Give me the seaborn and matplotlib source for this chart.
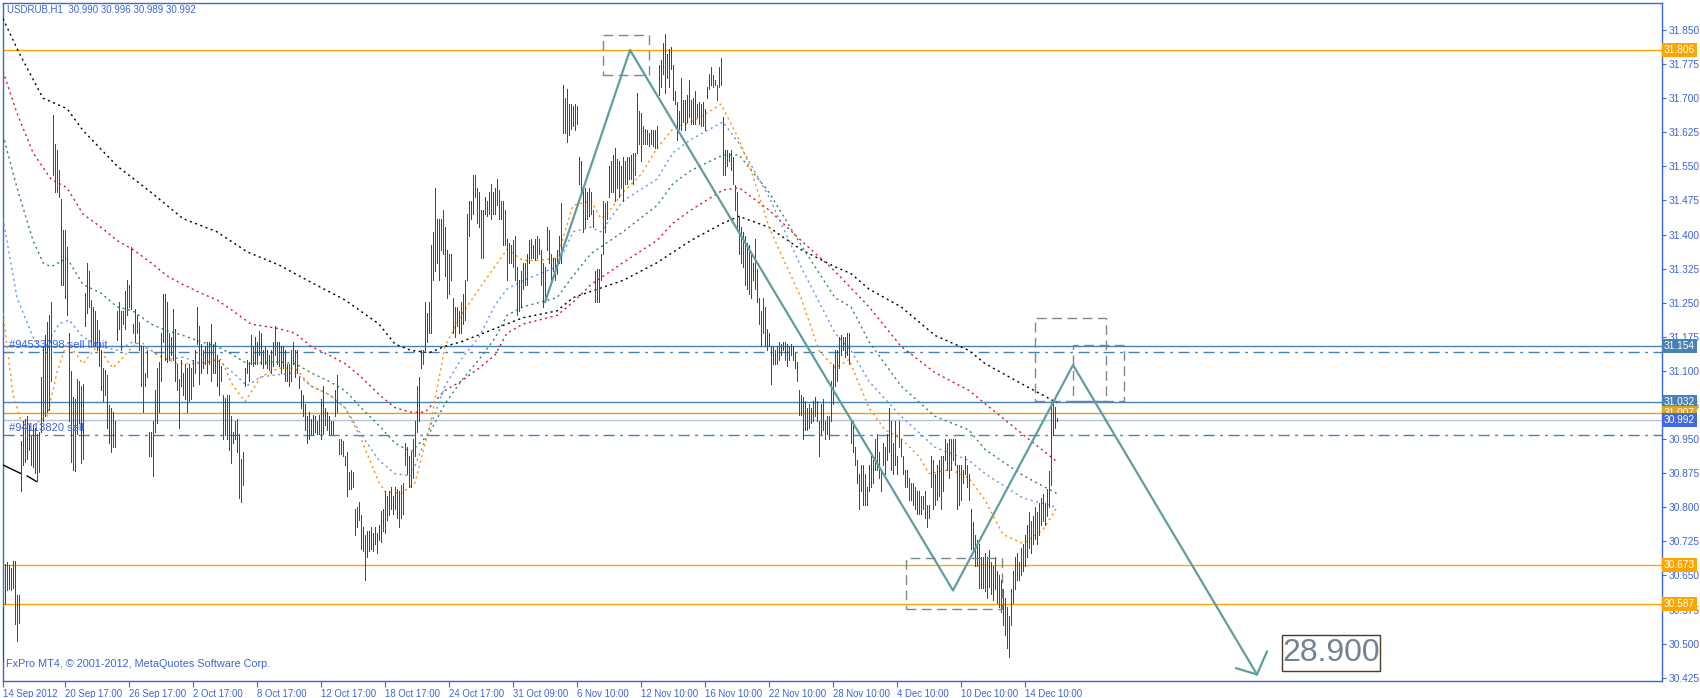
import matplotlib
matplotlib.use("Agg")
import matplotlib.pyplot as plt
from matplotlib.patches import Rectangle
import pandas as pd
import seaborn as sns

sns.set_theme(style="white")
plt.rcParams["font.family"] = ["Liberation Sans", "DejaVu Sans"]

# ---------------------------------------------------------------- colours
AXIS_BLUE = "#3d63dd"
BAR_COLOR = "#2f4d66"
MAGENTA = "#b5176e"
ORANGE = "#ffa500"
GOLD = "#daa520"
STEEL = "#4682b4"
ZIGZAG = "#5f9ea0"
BOX_GREY = "#7b8794"

# ---------------------------------------------------------------- price bars (H1, one per bar index)
HIGH = [
    30.578, 30.675, 30.680, 30.672, 30.666, 30.682, 30.682, 30.607, 30.607, 30.946,
    30.990, 30.995, 31.001, 30.980, 30.956, 30.980, 30.975, 30.961, 30.966, 31.086,
    31.154, 31.180, 31.207, 31.222, 31.251, 31.662, 31.600, 31.585, 31.541, 31.478,
    31.411, 31.411, 31.372, 31.183, 31.100, 31.043, 31.038, 31.082, 31.077, 31.067,
    31.072, 31.271, 31.338, 31.319, 31.256, 31.241, 31.232, 31.212, 31.190, 31.145,
    31.106, 31.101, 31.091, 31.024, 31.019, 31.009, 30.990, 31.232, 31.251, 31.232,
    31.232, 31.275, 31.299, 31.290, 31.372, 31.203, 31.237, 31.222, 31.208, 31.154,
    31.154, 31.096, 31.145, 30.965, 30.965, 30.990, 31.057, 31.106, 31.120, 31.183,
    31.270, 31.270, 31.251, 31.183, 31.174, 31.237, 31.193, 31.116, 31.082, 31.125,
    31.096, 31.116, 31.106, 31.116, 31.106, 31.125, 31.145, 31.241, 31.198, 31.159,
    31.145, 31.154, 31.164, 31.164, 31.203, 31.159, 31.164, 31.135, 31.125, 31.111,
    31.048, 31.040, 31.048, 31.048, 31.000, 30.965, 30.990, 30.995, 30.961, 30.907,
    30.922, 31.106, 31.125, 31.120, 31.178, 31.154, 31.174, 31.164, 31.188, 31.183,
    31.145, 31.154, 31.145, 31.135, 31.145, 31.164, 31.198, 31.164, 31.164, 31.154,
    31.154, 31.145, 31.116, 31.116, 31.145, 31.164, 31.145, 31.145, 31.087, 31.057,
    31.048, 31.028, 31.000, 31.009, 30.995, 31.004, 31.000, 30.990, 31.004, 31.038,
    31.067, 31.019, 31.009, 31.000, 30.990, 30.990, 31.057, 31.091, 30.951, 30.951,
    30.946, 30.912, 30.922, 30.878, 30.883, 30.878, 30.796, 30.801, 30.811, 30.782,
    30.757, 30.738, 30.748, 30.748, 30.757, 30.743, 30.757, 30.743, 30.762, 30.791,
    30.796, 30.835, 30.825, 30.835, 30.845, 30.825, 30.845, 30.840, 30.835, 30.849,
    30.854, 30.941, 30.932, 30.912, 30.922, 30.951, 30.990, 31.067, 31.087, 31.145,
    31.145, 31.251, 31.227, 31.251, 31.377, 31.406, 31.503, 31.435, 31.435, 31.435,
    31.454, 31.416, 31.367, 31.358, 31.358, 31.261, 31.241, 31.241, 31.232, 31.251,
    31.270, 31.299, 31.445, 31.474, 31.474, 31.532, 31.532, 31.503, 31.493, 31.454,
    31.454, 31.483, 31.474, 31.493, 31.512, 31.493, 31.503, 31.522, 31.498, 31.474,
    31.474, 31.454, 31.391, 31.382, 31.377, 31.387, 31.396, 31.329, 31.299, 31.319,
    31.338, 31.338, 31.358, 31.387, 31.391, 31.377, 31.391, 31.396, 31.391, 31.367,
    31.338, 31.329, 31.416, 31.411, 31.358, 31.348, 31.348, 31.367, 31.396, 31.469,
    31.730, 31.701, 31.720, 31.687, 31.687, 31.682, 31.687, 31.682, 31.571, 31.561,
    31.503, 31.503, 31.493, 31.503, 31.493, 31.454, 31.319, 31.324, 31.324, 31.358,
    31.474, 31.469, 31.474, 31.551, 31.561, 31.575, 31.590, 31.566, 31.561, 31.551,
    31.571, 31.561, 31.571, 31.571, 31.575, 31.580, 31.580, 31.711, 31.672, 31.667,
    31.638, 31.633, 31.629, 31.624, 31.629, 31.629, 31.629, 31.638, 31.774, 31.783,
    31.822, 31.842, 31.798, 31.808, 31.812, 31.774, 31.716, 31.692, 31.672, 31.745,
    31.696, 31.696, 31.706, 31.740, 31.696, 31.701, 31.716, 31.687, 31.692, 31.687,
    31.692, 31.677, 31.725, 31.754, 31.769, 31.750, 31.740, 31.730, 31.769, 31.788,
    31.658, 31.585, 31.585, 31.580, 31.585, 31.571, 31.508, 31.493, 31.440, 31.416,
    31.406, 31.396, 31.382, 31.377, 31.358, 31.338, 31.391, 31.324, 31.261, 31.232,
    31.261, 31.241, 31.193, 31.183, 31.154, 31.154, 31.145, 31.154, 31.164, 31.159,
    31.164, 31.164, 31.159, 31.154, 31.159, 31.154, 31.140, 31.120, 31.057, 31.048,
    31.043, 31.033, 31.019, 31.028, 31.019, 31.033, 31.043, 31.033, 30.990, 31.028,
    31.038, 30.990, 31.000, 31.000, 31.077, 31.116, 31.145, 31.145, 31.174, 31.178,
    31.174, 31.174, 31.183, 31.183, 30.990, 30.990, 30.932, 30.903, 30.874, 30.893,
    30.893, 30.874, 30.845, 30.893, 30.912, 30.903, 30.951, 30.961, 30.922, 30.883,
    30.941, 30.932, 30.961, 31.019, 30.990, 30.941, 30.990, 30.912, 30.990, 30.951,
    30.912, 30.883, 30.883, 30.864, 30.854, 30.854, 30.845, 30.835, 30.835, 30.825,
    30.825, 30.835, 30.806, 30.806, 30.912, 30.903, 30.874, 30.893, 30.903, 30.912,
    30.912, 30.951, 30.941, 30.951, 30.951, 30.951, 30.951, 30.893, 30.893, 30.893,
    30.883, 30.912, 30.893, 30.874, 30.796, 30.767, 30.738, 30.728, 30.719, 30.690,
    30.690, 30.700, 30.690, 30.705, 30.680, 30.670, 30.690, 30.660, 30.650, 30.640,
    30.620, 30.600, 30.580, 30.560, 30.620, 30.660, 30.690, 30.700, 30.680, 30.710,
    30.720, 30.740, 30.760, 30.790, 30.770, 30.780, 30.800, 30.790, 30.810, 30.820,
    30.830, 30.810, 30.840, 30.880, 31.030, 31.035, 31.020, 30.996,
]
LOW = [
    30.462, 30.588, 30.617, 30.620, 30.617, 30.622, 30.544, 30.506, 30.546, 30.835,
    30.893, 30.900, 30.907, 30.927, 30.893, 30.888, 30.875, 30.859, 30.878, 30.965,
    30.990, 31.000, 31.009, 31.014, 31.077, 31.532, 31.493, 31.493, 31.483, 31.290,
    31.290, 31.261, 31.222, 30.990, 30.900, 30.883, 30.879, 30.961, 30.985, 30.898,
    30.907, 31.198, 31.227, 31.241, 31.154, 31.154, 31.154, 31.145, 31.110, 31.057,
    31.033, 31.048, 30.975, 30.941, 30.922, 30.932, 30.932, 31.169, 31.193, 31.145,
    31.203, 31.193, 31.222, 31.241, 31.237, 31.183, 31.164, 31.183, 31.145, 31.067,
    31.009, 31.067, 31.087, 30.912, 30.912, 30.869, 30.965, 30.985, 31.009, 31.077,
    31.164, 31.125, 31.120, 31.125, 31.135, 31.125, 31.077, 31.057, 30.975, 31.067,
    31.048, 31.038, 31.009, 31.033, 31.038, 31.067, 31.096, 31.159, 31.072, 31.096,
    31.106, 31.116, 31.096, 31.116, 31.077, 31.096, 31.096, 31.067, 31.048, 31.077,
    30.951, 30.960, 30.951, 30.927, 30.898, 30.941, 30.951, 30.922, 30.820, 30.811,
    30.849, 31.067, 31.096, 31.077, 31.116, 31.111, 31.116, 31.116, 31.135, 31.116,
    31.106, 31.116, 31.106, 31.101, 31.096, 31.111, 31.135, 31.116, 31.111, 31.096,
    31.106, 31.077, 31.077, 31.067, 31.077, 31.116, 31.087, 31.096, 31.062, 31.019,
    31.000, 30.970, 30.941, 30.951, 30.961, 30.961, 30.966, 30.961, 30.961, 30.951,
    30.961, 30.980, 30.970, 30.961, 30.961, 30.961, 31.000, 31.009, 30.917, 30.917,
    30.912, 30.893, 30.825, 30.840, 30.840, 30.845, 30.738, 30.757, 30.772, 30.709,
    30.704, 30.641, 30.690, 30.704, 30.709, 30.704, 30.719, 30.699, 30.728, 30.724,
    30.748, 30.743, 30.772, 30.782, 30.796, 30.786, 30.796, 30.777, 30.757, 30.777,
    30.786, 30.893, 30.874, 30.845, 30.845, 30.864, 30.912, 30.966, 30.990, 31.106,
    31.116, 31.145, 31.164, 31.183, 31.183, 31.299, 31.319, 31.338, 31.299, 31.367,
    31.358, 31.309, 31.261, 31.270, 31.299, 31.183, 31.174, 31.198, 31.183, 31.183,
    31.203, 31.212, 31.299, 31.396, 31.435, 31.445, 31.483, 31.425, 31.416, 31.348,
    31.348, 31.445, 31.440, 31.445, 31.435, 31.445, 31.445, 31.464, 31.435, 31.435,
    31.377, 31.377, 31.299, 31.338, 31.338, 31.329, 31.299, 31.222, 31.232, 31.241,
    31.280, 31.290, 31.290, 31.338, 31.348, 31.348, 31.343, 31.348, 31.358, 31.290,
    31.241, 31.251, 31.367, 31.338, 31.299, 31.319, 31.299, 31.314, 31.338, 31.338,
    31.624, 31.624, 31.604, 31.619, 31.633, 31.638, 31.629, 31.643, 31.512, 31.493,
    31.406, 31.416, 31.435, 31.440, 31.445, 31.416, 31.251, 31.251, 31.251, 31.299,
    31.358, 31.406, 31.435, 31.483, 31.493, 31.493, 31.474, 31.503, 31.483, 31.503,
    31.474, 31.512, 31.512, 31.522, 31.522, 31.512, 31.532, 31.580, 31.600, 31.561,
    31.600, 31.600, 31.600, 31.595, 31.600, 31.595, 31.590, 31.590, 31.706, 31.725,
    31.754, 31.711, 31.745, 31.725, 31.764, 31.696, 31.687, 31.609, 31.633, 31.629,
    31.648, 31.629, 31.648, 31.658, 31.643, 31.643, 31.643, 31.658, 31.643, 31.638,
    31.638, 31.629, 31.701, 31.720, 31.730, 31.725, 31.730, 31.696, 31.725, 31.730,
    31.532, 31.532, 31.551, 31.561, 31.541, 31.512, 31.454, 31.416, 31.358, 31.338,
    31.329, 31.290, 31.280, 31.270, 31.261, 31.299, 31.280, 31.251, 31.203, 31.154,
    31.183, 31.154, 31.145, 31.154, 31.072, 31.116, 31.116, 31.116, 31.125, 31.135,
    31.145, 31.125, 31.111, 31.125, 31.135, 31.125, 31.106, 31.077, 31.004, 31.004,
    30.951, 30.970, 30.970, 30.975, 30.985, 30.990, 31.000, 30.990, 30.912, 30.961,
    30.970, 30.951, 30.961, 30.951, 30.990, 31.028, 31.067, 31.077, 31.106, 31.135,
    31.145, 31.130, 31.135, 31.116, 30.941, 30.922, 30.893, 30.854, 30.796, 30.835,
    30.806, 30.806, 30.806, 30.835, 30.845, 30.854, 30.883, 30.883, 30.864, 30.835,
    30.893, 30.874, 30.903, 30.922, 30.883, 30.874, 30.893, 30.874, 30.932, 30.912,
    30.874, 30.845, 30.845, 30.816, 30.816, 30.806, 30.796, 30.786, 30.786, 30.786,
    30.796, 30.777, 30.757, 30.777, 30.845, 30.796, 30.806, 30.816, 30.825, 30.796,
    30.835, 30.903, 30.883, 30.864, 30.883, 30.903, 30.893, 30.796, 30.806, 30.816,
    30.854, 30.874, 30.845, 30.816, 30.709, 30.699, 30.670, 30.670, 30.622, 30.622,
    30.622, 30.615, 30.600, 30.625, 30.610, 30.595, 30.620, 30.590, 30.580, 30.570,
    30.540, 30.520, 30.490, 30.470, 30.540, 30.590, 30.620, 30.640, 30.640, 30.650,
    30.660, 30.670, 30.690, 30.710, 30.700, 30.720, 30.730, 30.720, 30.740, 30.760,
    30.770, 30.760, 30.780, 30.800, 30.850, 30.960, 30.975, 30.989,
]
MAGENTA_BARS = [71, 210, 321, 357, 508]

# ---------------------------------------------------------------- moving averages (bar index, price)
MA_BLACK_X = [0, 8, 20, 32, 40, 57, 74, 90, 107, 122, 138, 154, 171, 188, 196, 204,
              213, 221, 229, 246, 260, 277, 285, 294, 310, 327, 344, 360, 368, 383,
              399, 416, 424, 433, 449, 466, 483, 491, 510, 527]
MA_BLACK_Y = [31.875, 31.800, 31.700, 31.677, 31.629, 31.551, 31.493, 31.435, 31.406,
              31.362, 31.333, 31.295, 31.256, 31.203, 31.159, 31.145, 31.140, 31.154,
              31.164, 31.193, 31.217, 31.232, 31.261, 31.275, 31.299, 31.338, 31.387,
              31.425, 31.440, 31.416, 31.367, 31.329, 31.314, 31.280, 31.241, 31.178,
              31.145, 31.116, 31.070, 31.030]

MA_RED_X = [0, 7, 15, 24, 32, 40, 49, 57, 65, 74, 82, 90, 99, 107, 115, 124, 138, 146,
            154, 163, 171, 179, 188, 196, 204, 211, 221, 229, 238, 246, 252, 260, 277,
            285, 294, 310, 327, 335, 344, 360, 368, 383, 399, 416, 433, 449, 466, 483,
            491, 510, 527]
MA_RED_Y = [31.759, 31.667, 31.580, 31.522, 31.503, 31.445, 31.416, 31.387, 31.367,
            31.338, 31.309, 31.290, 31.271, 31.256, 31.232, 31.203, 31.193, 31.183,
            31.154, 31.135, 31.116, 31.087, 31.048, 31.019, 31.009, 31.009, 31.057,
            31.077, 31.106, 31.135, 31.183, 31.203, 31.222, 31.251, 31.290, 31.338,
            31.387, 31.425, 31.454, 31.498, 31.503, 31.454, 31.387, 31.319, 31.241,
            31.154, 31.096, 31.057, 31.028, 30.960, 30.900]

MA_GREEN_X = [0, 7, 15, 20, 24, 32, 40, 49, 57, 65, 74, 82, 90, 99, 107, 115, 122, 138,
              146, 154, 163, 171, 179, 188, 196, 204, 213, 221, 229, 238, 246, 252, 260,
              277, 285, 294, 310, 327, 335, 344, 360, 368, 383, 399, 416, 424, 433, 449,
              466, 483, 491, 510, 527]
MA_GREEN_Y = [31.619, 31.503, 31.387, 31.338, 31.329, 31.348, 31.290, 31.271, 31.241,
              31.232, 31.203, 31.188, 31.178, 31.164, 31.154, 31.135, 31.116, 31.120,
              31.116, 31.096, 31.077, 31.057, 31.019, 30.980, 30.941, 30.922, 30.961,
              31.028, 31.077, 31.125, 31.172, 31.222, 31.241, 31.261, 31.309, 31.358,
              31.406, 31.464, 31.512, 31.541, 31.575, 31.575, 31.493, 31.377, 31.261,
              31.241, 31.164, 31.067, 31.000, 30.970, 30.927, 30.870, 30.830]

MA_BLUE_X = [0, 7, 15, 20, 28, 33, 40, 49, 57, 65, 74, 82, 90, 99, 107, 115, 122, 129,
             146, 154, 163, 171, 179, 188, 196, 204, 213, 221, 229, 238, 246, 252, 260,
             277, 285, 294, 299, 310, 327, 335, 344, 360, 368, 383, 399, 416, 424, 433,
             449, 466, 483, 491, 510, 527]
MA_BLUE_Y = [31.435, 31.261, 31.174, 31.145, 31.203, 31.212, 31.174, 31.154, 31.145,
             31.164, 31.145, 31.125, 31.130, 31.116, 31.125, 31.096, 31.067, 31.087,
             31.096, 31.067, 31.048, 31.019, 30.961, 30.903, 30.874, 30.869, 30.970,
             31.067, 31.125, 31.174, 31.245, 31.280, 31.299, 31.329, 31.406, 31.416,
             31.406, 31.474, 31.522, 31.580, 31.609, 31.648, 31.600, 31.483, 31.329,
             31.183, 31.145, 31.077, 31.000, 30.932, 30.903, 30.874, 30.820, 30.800]

MA_ORANGE_X = [0, 5, 9, 15, 22, 27, 32, 40, 47, 55, 65, 69, 77, 87, 99, 109, 115, 121,
               129, 138, 146, 154, 163, 171, 179, 188, 191, 199, 206, 214, 221, 229, 238,
               246, 252, 260, 268, 277, 285, 294, 299, 302, 310, 319, 327, 335, 344, 352,
               359, 368, 374, 383, 391, 399, 408, 416, 423, 433, 441, 449, 458, 463, 474,
               483, 491, 500, 510, 520, 527]
MA_ORANGE_Y = [31.227, 31.048, 30.990, 30.980, 31.000, 31.096, 31.164, 31.116, 31.154,
               31.106, 31.154, 31.164, 31.135, 31.116, 31.116, 31.125, 31.067, 31.033,
               31.087, 31.106, 31.106, 31.067, 31.048, 31.019, 30.951, 30.854, 30.835,
               30.830, 30.854, 30.990, 31.154, 31.222, 31.280, 31.330, 31.367, 31.343,
               31.343, 31.348, 31.464, 31.474, 31.435, 31.445, 31.493, 31.532, 31.590,
               31.633, 31.648, 31.667, 31.687, 31.609, 31.542, 31.416, 31.338, 31.261,
               31.145, 31.106, 31.125, 31.019, 30.970, 30.951, 30.912, 30.874, 30.883,
               30.864, 30.816, 30.740, 30.720, 30.750, 30.800]

# trend fragment at the far left
TREND_X = [0, 9, 12, 17]
TREND_Y = [30.893, 30.874, 30.869, 30.856]

# zig-zag projection and its arrow head
ZIGZAG_X = [271, 313.5, 475, 535, 627]
ZIGZAG_Y = [31.251, 31.806, 30.617, 31.113, 30.432]
ARROW_X = [616.5, 627, 632]
ARROW_Y = [30.446, 30.432, 30.483]

# dashed rectangles: (bar0, bar1, price0, price1)
BOXES = [
    (300.2, 323.2, 31.750, 31.839),
    (451.5, 499.5, 30.577, 30.688),
    (516.0, 551.5, 31.034, 31.216),
    (535.0, 560.5, 31.034, 31.157),
]

TARGET_BOX = (639.5, 688.5, 30.440, 30.519)
TARGET_TEXT = "28.900"

# ---------------------------------------------------------------- horizontal price lines
LEVELS = [31.806, 31.154, 31.032, 31.007, 30.992, 30.673, 30.587]
LEVEL_COLORS = [ORANGE, STEEL, STEEL, GOLD, "#b0c4de", ORANGE, ORANGE]
LABEL_COLORS = [ORANGE, STEEL, STEEL, GOLD, "#4169e1", ORANGE, ORANGE]
ORDER_LEVELS = [31.142, 30.960]
ORDER_TEXT = ["#94533798 sell limit", "#94113820 sell"]

Y_TICKS = [31.850, 31.775, 31.700, 31.625, 31.550, 31.475, 31.400, 31.325, 31.250,
           31.175, 31.100, 31.025, 30.950, 30.875, 30.800, 30.725, 30.650, 30.575,
           30.500, 30.425]
X_TICKS = [0, 31, 63, 95, 127, 159, 191, 223, 255, 287, 319, 351, 383, 415, 447, 479, 511]
X_LABELS = ["14 Sep 2012", "20 Sep 17:00", "26 Sep 17:00", "2 Oct 17:00", "8 Oct 17:00",
            "12 Oct 17:00", "18 Oct 17:00", "24 Oct 17:00", "31 Oct 09:00", "6 Nov 10:00",
            "12 Nov 10:00", "16 Nov 10:00", "22 Nov 10:00", "28 Nov 10:00", "4 Dec 10:00",
            "10 Dec 10:00", "14 Dec 10:00"]

TITLE = "USDRUB,H1  30.990 30.996 30.989 30.992"
FOOTER = "FxPro MT4, \u00a9 2001-2012, MetaQuotes Software Corp."

# ---------------------------------------------------------------- figure
W, H = 1700, 698
fig = plt.figure(figsize=(W / 100, H / 100), dpi=100)
fig.patch.set_facecolor("white")
ax = fig.add_axes([2.5 / W, 17 / H, 1659.5 / W, 678 / H])
ax.set_facecolor("white")
ax.set_xlim(-0.25, 829.5)
ax.set_ylim(30.4177, 31.9094)

bars = pd.DataFrame({"bar": range(len(HIGH)), "high": HIGH, "low": LOW})
bars["color"] = [MAGENTA if i in MAGENTA_BARS else BAR_COLOR for i in bars["bar"]]
ax.vlines(bars["bar"], bars["low"], bars["high"], colors=bars["color"], lw=0.62,
          antialiased=False, zorder=4)

# horizontal levels
for lv, c in zip(LEVELS, LEVEL_COLORS):
    ax.axhline(lv, color=c, lw=1.0, zorder=2)
for lv in ORDER_LEVELS:
    ax.axhline(lv, color=STEEL, lw=1.0, linestyle=(0, (8, 4, 2, 4)), zorder=2)
for lv, txt in zip(ORDER_LEVELS, ORDER_TEXT):
    ax.text(3, lv + 0.003, txt, color=AXIS_BLUE, fontsize=8, va="bottom", ha="left", zorder=6)

# moving averages
ma_sets = [
    (MA_BLACK_X, MA_BLACK_Y, "black"),
    (MA_RED_X, MA_RED_Y, "#dc143c"),
    (MA_GREEN_X, MA_GREEN_Y, "#2e8b57"),
    (MA_BLUE_X, MA_BLUE_Y, "#6495ed"),
    (MA_ORANGE_X, MA_ORANGE_Y, "#ff8c00"),
]
for xs, ys, c in ma_sets:
    sns.lineplot(x=xs, y=ys, ax=ax, color=c, lw=1.0, linestyle=(0, (1.5, 2.5)),
                 sort=False, zorder=3)

ax.plot(TREND_X[:2], TREND_Y[:2], color="black", lw=1.0, zorder=3)
ax.plot(TREND_X[2:], TREND_Y[2:], color="black", lw=1.0, zorder=3)

# zig-zag and arrow
sns.lineplot(x=ZIGZAG_X, y=ZIGZAG_Y, ax=ax, color=ZIGZAG, lw=1.6, sort=False, zorder=5)
sns.lineplot(x=ARROW_X, y=ARROW_Y, ax=ax, color=ZIGZAG, lw=1.6, sort=False, zorder=5)

for x0, x1, y0, y1 in BOXES:
    ax.add_patch(Rectangle((x0, y0), x1 - x0, y1 - y0, fill=False, ec=BOX_GREY,
                           lw=1.0, linestyle=(0, (7, 4)), zorder=5))

tx0, tx1, ty0, ty1 = TARGET_BOX
ax.add_patch(Rectangle((tx0, ty0), tx1 - tx0, ty1 - ty0, fill=True, fc="white",
                       ec="#4a3a28", lw=1.0, zorder=6))
ax.text((tx0 + tx1) / 2, (ty0 + ty1) / 2, TARGET_TEXT, ha="center", va="center",
        fontsize=23, color="#738290", zorder=7)

# axes styling
for sp in ax.spines.values():
    sp.set_color(AXIS_BLUE)
    sp.set_linewidth(1.0)
ax.yaxis.tick_right()
ax.set_yticks(Y_TICKS)
ax.set_yticklabels([f"{v:.3f}" for v in Y_TICKS])
ax.tick_params(axis="y", direction="out", length=3, width=0.8, color=AXIS_BLUE,
               labelcolor=AXIS_BLUE, labelsize=7.3, pad=1.5, right=True, left=False)
ax.set_xticks(X_TICKS)
ax.set_xticklabels(X_LABELS)
ax.tick_params(axis="x", direction="out", length=4, width=0.8, color=AXIS_BLUE,
               labelcolor=AXIS_BLUE, labelsize=6.9, pad=1.5, bottom=True)
for lab in ax.get_xticklabels():
    lab.set_horizontalalignment("left")
ax.grid(False)
ax.set_xlabel("")
ax.set_ylabel("")

# price labels on the right axis
for lv, c in zip(LEVELS, LABEL_COLORS):
    ax.annotate(f"{lv:.3f}", xy=(1.0, lv), xycoords=ax.get_yaxis_transform(),
                xytext=(1.2, 0), textcoords="offset points", ha="left", va="center",
                fontsize=7.3, color="white", annotation_clip=False, zorder=10,
                bbox=dict(boxstyle="square,pad=0.2", fc=c, ec="none"))

fig.text(7 / W, 1 - 10 / H, TITLE, color=AXIS_BLUE, fontsize=7.0, ha="left", va="center")
ax.text(0.002, 0.018, FOOTER, transform=ax.transAxes, color=AXIS_BLUE, fontsize=7.8,
        ha="left", va="bottom")

fig.savefig("out.png", dpi=100)
